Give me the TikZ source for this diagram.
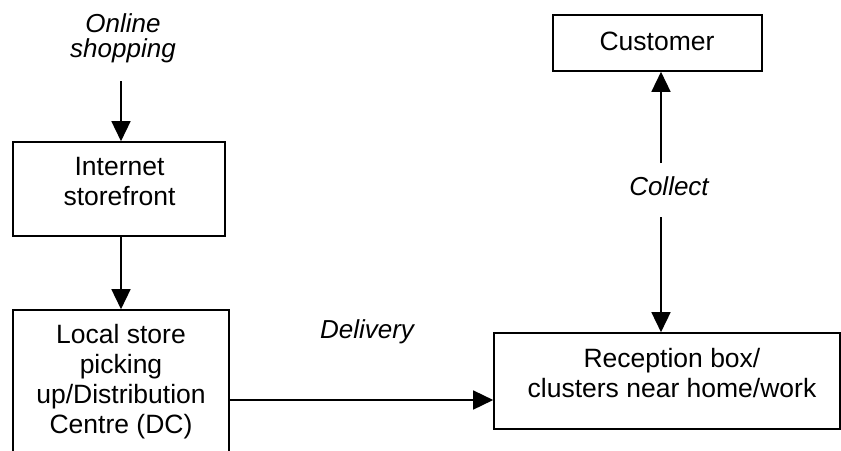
\documentclass[tikz,border=0pt]{standalone}
\usepackage{fontspec}
\setmainfont{Liberation Sans}
\usetikzlibrary{arrows.meta}

\begin{document}
\begin{tikzpicture}[x=1pt, y=-1pt,
  every node/.style={font=\fontsize{26.5}{30}\selectfont},
  box/.style={draw, line width=1.6pt, inner sep=0pt},
  txt/.style={align=center, inner sep=0pt},
  lbl/.style={align=center, inner sep=0pt, font=\fontsize{26}{25}\selectfont\itshape},
  arr/.style={line width=1.5pt, -{Triangle[width=19pt,length=20pt]}}]
  \useasboundingbox (0,0) rectangle (841,450);
  \clip (0,0) rectangle (841,450);

  % boxes
  \node[box, minimum width=212pt, minimum height=94pt] (inet) at (119,189) {};
  \node[box, minimum width=216pt, minimum height=180pt] (local) at (121,400) {};
  \node[box, minimum width=346pt, minimum height=96pt] (rec) at (667,381) {};
  \node[box, minimum width=209pt, minimum height=56pt] (cust) at (657.5,43) {};

  % box texts
  \node[txt] (inettxt) at (119.5,182) {Internet\\storefront};
  \node[txt] (localtxt) at (121,382) {Local store\\picking\\up/Distribution\\Centre (DC)};
  \node[txt] (rectxt) at (672,373.5) {Reception box/\\clusters near home/work};
  \node[txt] (custtxt) at (657,41) {Customer};

  % flow labels
  \node[lbl] (online) at (123,38.5) {Online\\shopping};
  \node[lbl] (deliv) at (367,332) {Delivery};
  \node[lbl] (coll) at (669,186) {Collect};

  % connectors
  \coordinate (in0) at (121,81);
  \draw[arr] (in0) -- (in0 |- inet.north);
  \draw[arr] (local.north |- inet.south) -- (local.north);
  \draw[arr] (local.east) -- (local.east -| rec.west);
  \coordinate (c1) at (661,163);
  \coordinate (c2) at (661,217);
  \draw[arr] (c1) -- (c1 |- cust.south);
  \draw[arr] (c2) -- (c2 |- rec.north);
\end{tikzpicture}
\end{document}
